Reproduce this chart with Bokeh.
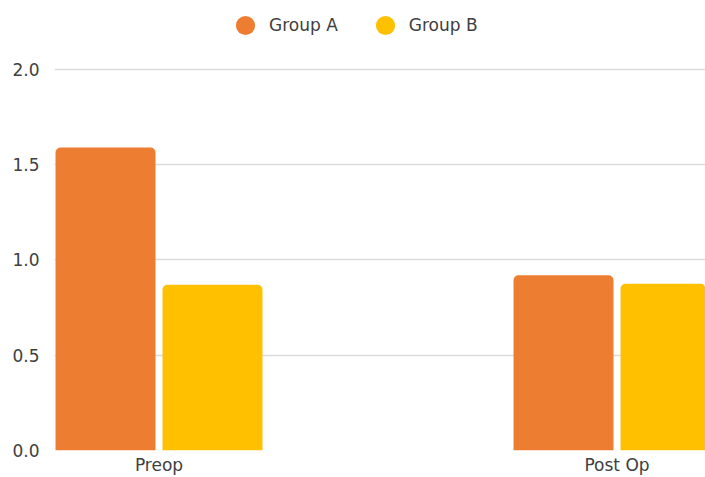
from bokeh.plotting import figure
from bokeh.models import Range1d, FixedTicker, Legend, LegendItem, ColumnDataSource
from bokeh.transform import dodge
from bokeh.embed import file_html
from bokeh.resources import INLINE

categories = ["Preop", "Post Op"]
series_names = ["Group A", "Group B"]
group_a = [1.59, 0.92]
group_b = [0.87, 0.875]
y_ticks = [0.0, 0.5, 1.0, 1.5, 2.0]

colors = ["#ED7D31", "#FFC000"]
text_color = "#404040"
font = "DejaVu Sans"

xpos = list(range(len(categories)))
src = ColumnDataSource(dict(x=xpos, a=group_a, b=group_b))

p = figure(width=705, height=477, output_backend="svg", toolbar_location=None,
           x_range=Range1d(-0.2282, 1.1932), y_range=Range1d(0, 2.362),
           min_border_left=54, min_border_right=0, min_border_top=0, min_border_bottom=27)

bw = 0.2183
off = 0.1168
ra = p.vbar(x=dodge("x", -off), top="a", width=bw, bottom=0, source=src,
            fill_color=colors[0], line_color=None, border_radius=(5, 5, 0, 0))
rb = p.vbar(x=dodge("x", off), top="b", width=bw, bottom=0, source=src,
            fill_color=colors[1], line_color=None, border_radius=(5, 5, 0, 0))

# legend proxies (circle markers, not drawn in the plot: y is NaN)
nan = float("nan")
la = p.scatter(x=xpos[:1], y=[nan], marker="circle", size=10, fill_color=colors[0], line_color=None)
lb = p.scatter(x=xpos[:1], y=[nan], marker="circle", size=10, fill_color=colors[1], line_color=None)

legend = Legend(items=[LegendItem(label=series_names[0], renderers=[la], index=0),
                       LegendItem(label=series_names[1], renderers=[lb], index=0)],
                orientation="horizontal", location=(167, 401),
                glyph_width=48, glyph_height=48, label_standoff=0, spacing=23,
                padding=0, margin=0, border_line_color=None, background_fill_alpha=0,
                label_text_font=font, label_text_font_size="17px", label_text_color=text_color)
p.add_layout(legend, "center")

p.yaxis.ticker = FixedTicker(ticks=y_ticks)
p.yaxis.major_label_overrides = {t: f"{t:.1f}" for t in y_ticks}
p.xaxis.ticker = FixedTicker(ticks=xpos)
p.xaxis.major_label_overrides = {i: c for i, c in enumerate(categories)}

for ax in (p.xaxis[0], p.yaxis[0]):
    ax.axis_line_color = None
    ax.major_tick_line_color = None
    ax.minor_tick_line_color = None
    ax.major_tick_out = 0
    ax.major_tick_in = 0
    ax.major_label_text_font = font
    ax.major_label_text_font_size = "17px"
    ax.major_label_text_color = text_color
p.yaxis.major_label_standoff = 15
p.xaxis.major_label_standoff = 4

p.xgrid.grid_line_color = None
p.ygrid.grid_line_color = "#dcdcdc"
p.ygrid.grid_line_width = 1.5
p.outline_line_color = None

open("out.html", "w").write(file_html(p, INLINE))
